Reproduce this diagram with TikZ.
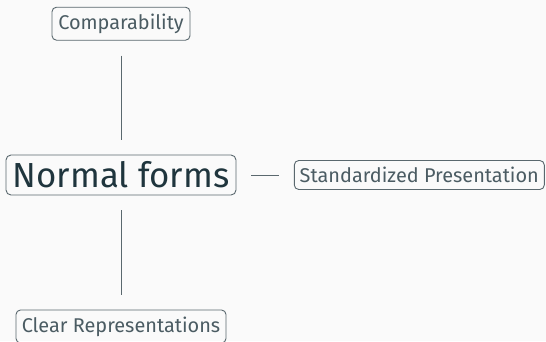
\documentclass[tikz,border=0pt]{standalone}
\usepackage{fontspec}
\setmainfont{Fira Sans}
\definecolor{pagebg}{HTML}{FAFAFA}
\definecolor{inkdark}{HTML}{1F353D}
\definecolor{inksoft}{HTML}{4B5C63}
\definecolor{edgegray}{HTML}{5A686E}
\tikzset{
  topic/.style={draw=edgegray, rounded corners=4.5pt, line width=0.9pt,
    text=inksoft, font=\fontsize{19.9}{24}\selectfont, inner sep=0pt,
    minimum height=29pt},
  roottopic/.style={draw=edgegray, rounded corners=5pt, line width=0.9pt,
    text=inkdark, font=\fontsize{34.8}{40}\selectfont, inner sep=0pt,
    minimum height=40pt, minimum width=230pt},
  link/.style={draw=edgegray, line width=0.8pt, shorten <=15pt, shorten >=15pt}
}
\begin{document}
\begin{tikzpicture}[x=1pt,y=-1pt]
  \fill[pagebg] (0,0) rectangle (546,341);
  \useasboundingbox (0,0) rectangle (546,341);
  \node[roottopic] (root) at (121,175) {Normal forms};
  \node[topic, minimum width=138pt, minimum height=33pt] (comp) at (121,23.7) {Comparability};
  \node[topic, minimum width=250pt] (std) at (419.3,175) {Standardized Presentation};
  \node[topic, minimum width=210pt, minimum height=33pt] (clear) at (121,326.5) {Clear Representations};
  \draw[link] (comp.south) -- (root.north);
  \draw[link] (root.east) -- (std.west);
  \draw[link] (root.south) -- (clear.north);
\end{tikzpicture}
\end{document}
